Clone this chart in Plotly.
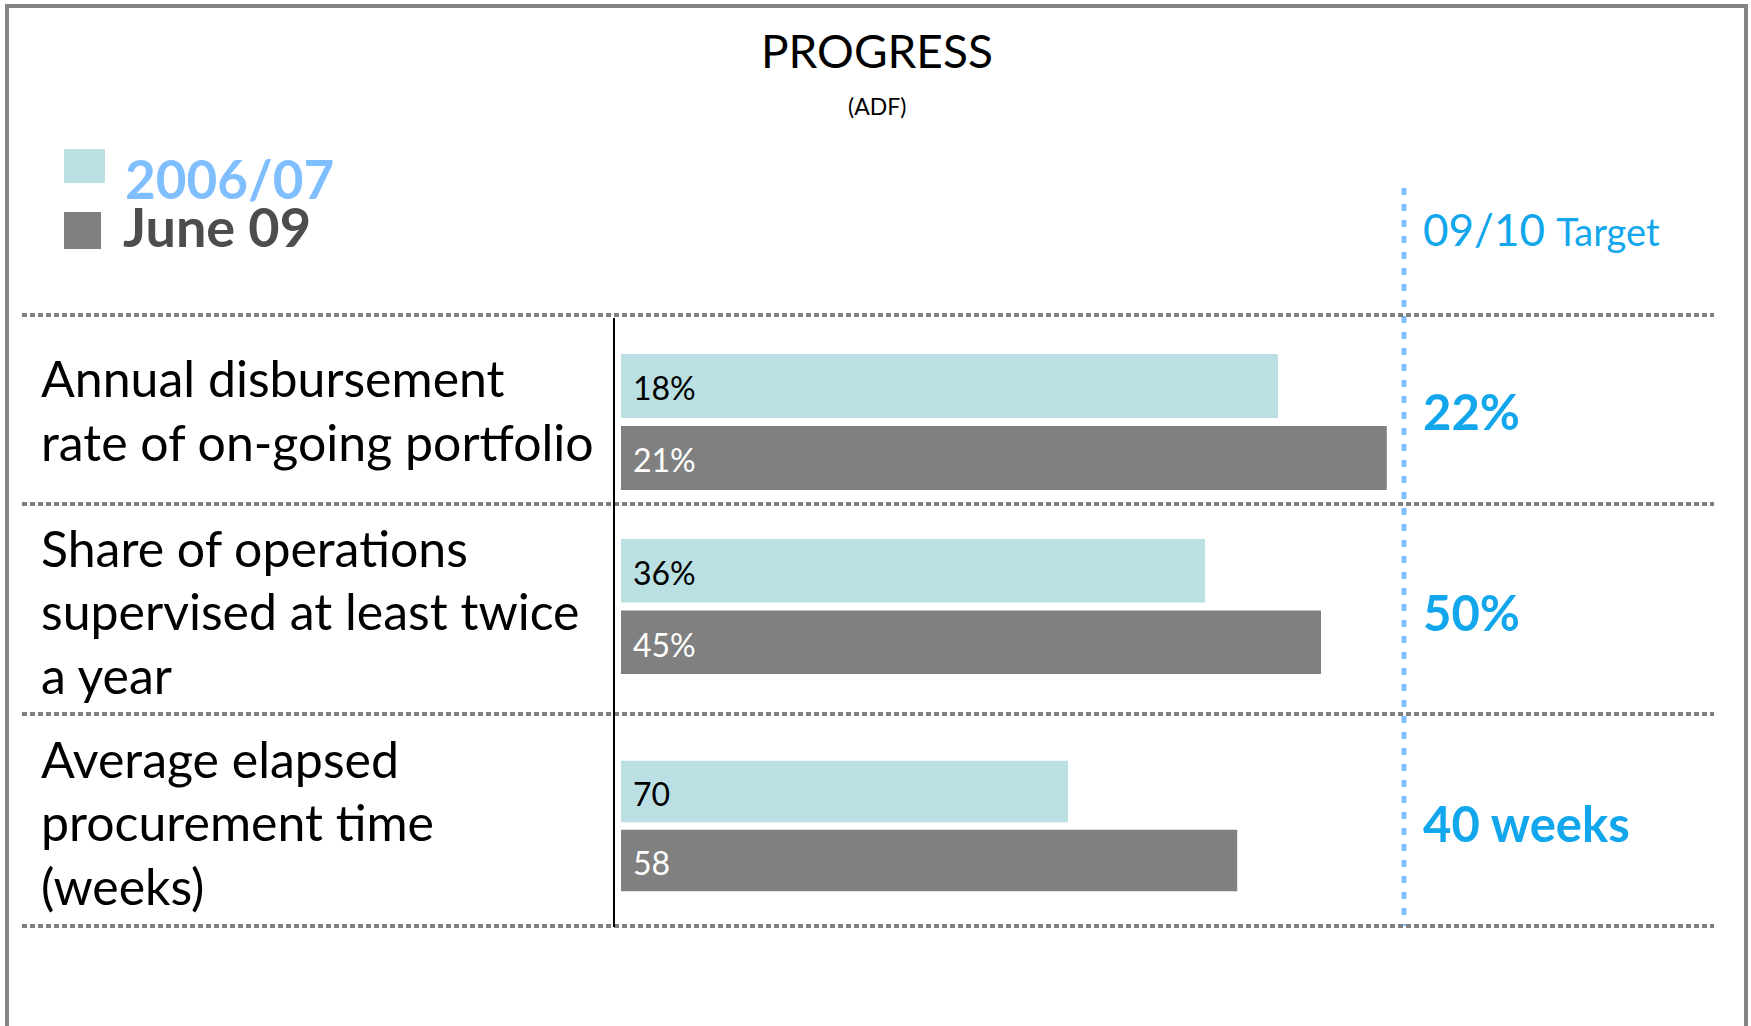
import plotly.graph_objects as go

# ---------------- data ----------------
row_labels = [
    "Annual disbursement\nrate of on-going portfolio",
    "Share of operations\nsupervised at least twice\na year",
    "Average elapsed\nprocurement time\n(weeks)",
]
series_names = ["2006/07", "June 09"]
# bar length, as % of the distance to the 09/10 target line
progress_2006_07 = [83.9, 74.6, 57.1]
progress_june_09 = [97.8, 89.4, 78.7]
value_text_2006_07 = ["18%", "36%", "70"]
value_text_june_09 = ["21%", "45%", "58"]
target_text = ["22%", "50%", "40 weeks"]
target_value = 100

# ---------------- styling ----------------
W, H = 1751, 1026
FONT = "Lato"
C_LIGHT = "#BAE0E3"
C_DARK = "#808080"
C_BLUE = "#12A6EC"
C_LBLUE = "#80BFFF"


def px(x):
    return x / W


def py(y):
    return 1 - y / H


X_MAX = 110
unit_px = (1404 - 621) / 100.0
x_dom = [px(621), px(621 + X_MAX * unit_px)]
row_dom = [(350, 494), (535, 678), (757, 895)]
row_center = [410, 611, 822]
line_gap = 63.5

fig = go.Figure()
series_progress = [progress_2006_07, progress_june_09]
series_colors = [C_LIGHT, C_DARK]
series_text = [value_text_2006_07, value_text_june_09]
text_colors = ["#000000", "#FFFFFF"]

annotations = []
shapes = []

for r in range(3):
    sfx = "" if r == 0 else str(r + 1)
    for s in range(2):
        fig.add_trace(go.Bar(
            x=[series_progress[s][r]], y=[series_names[s]], orientation="h",
            marker=dict(color=series_colors[s], line=dict(width=0)),
            name=series_names[s], showlegend=False,
            xaxis="x" + sfx, yaxis="y" + sfx, hoverinfo="skip",
        ))
        annotations.append(dict(
            x=0, y=series_names[s], xref="x" + sfx, yref="y" + sfx,
            text=series_text[s][r], showarrow=False, xanchor="left", yanchor="middle",
            xshift=10, yshift=-2,
            font=dict(family=FONT, size=32, color=text_colors[s]),
        ))
    # target value text
    annotations.append(dict(
        x=target_value, y=py(row_center[r] + 1), xref="x" + sfx, yref="paper",
        text="<b>" + target_text[r] + "</b>", showarrow=False,
        xanchor="left", yanchor="middle", xshift=17,
        font=dict(family=FONT, size=49, color=C_BLUE),
    ))
    # row label lines
    lines = row_labels[r].split("\n")
    n = len(lines)
    for i, ln in enumerate(lines):
        yc = row_center[r] + (i - (n - 1) / 2) * line_gap
        annotations.append(dict(
            x=px(39), y=py(yc), xref="paper", yref="paper", text=ln,
            showarrow=False, xanchor="left", yanchor="middle",
            font=dict(family=FONT, size=50, color="#000000"),
        ))
    ylo, yhi = row_dom[r]
    fig.layout["xaxis" + sfx] = dict(domain=x_dom, range=[0, X_MAX], visible=False,
                                     anchor="y" + sfx, fixedrange=True)
    fig.layout["yaxis" + sfx] = dict(domain=[py(yhi), py(ylo)], type="category",
                                     categoryorder="array", categoryarray=series_names,
                                     range=[1.5, -0.5], visible=False,
                                     anchor="x" + sfx, fixedrange=True)

# target vertical line
shapes.append(dict(type="line", xref="x", yref="paper", x0=target_value, x1=target_value,
                   y0=py(188), y1=py(926), line=dict(color=C_LBLUE, width=5, dash="7px,9px")))
# horizontal separators
for yy in [315, 504, 714, 926]:
    shapes.append(dict(type="line", xref="paper", yref="paper", x0=px(22), x1=px(1714),
                       y0=py(yy), y1=py(yy), line=dict(color="#7F7F7F", width=4, dash="5px,3px")))
# black axis line
shapes.append(dict(type="line", xref="paper", yref="paper", x0=px(614), x1=px(614),
                   y0=py(318), y1=py(927), line=dict(color="#000000", width=2)))
# outer border
shapes.append(dict(type="rect", xref="paper", yref="paper", x0=px(7), x1=px(1746),
                   y0=py(1040), y1=py(6), line=dict(color="#858585", width=4)))
# legend squares
shapes.append(dict(type="rect", xref="paper", yref="paper", x0=px(64), x1=px(105),
                   y0=py(183), y1=py(149), fillcolor=C_LIGHT, line=dict(width=0)))
shapes.append(dict(type="rect", xref="paper", yref="paper", x0=px(64), x1=px(101),
                   y0=py(249), y1=py(212), fillcolor=C_DARK, line=dict(width=0)))

# legend text
annotations.append(dict(x=px(123), y=py(179), xref="paper", yref="paper",
                        text="<b>" + series_names[0] + "</b>", showarrow=False,
                        xanchor="left", yanchor="middle",
                        font=dict(family=FONT, size=53, color=C_LBLUE)))
annotations.append(dict(x=px(121), y=py(227), xref="paper", yref="paper",
                        text="<b>" + series_names[1] + "</b>", showarrow=False,
                        xanchor="left", yanchor="middle",
                        font=dict(family=FONT, size=54, color="#4D4D4D")))
# target header
annotations.append(dict(x=target_value, y=py(229), xref="x", yref="paper",
                        text="09/10 <span style='font-size:38px'>Target</span>",
                        showarrow=False, xanchor="left", yanchor="middle", xshift=17,
                        font=dict(family=FONT, size=44, color=C_BLUE)))
# titles
annotations.append(dict(x=px(877), y=py(51), xref="paper", yref="paper", text="PROGRESS",
                        showarrow=False, xanchor="center", yanchor="middle",
                        font=dict(family=FONT, size=46, color="#000000")))
annotations.append(dict(x=px(877), y=py(106), xref="paper", yref="paper", text="(ADF)",
                        showarrow=False, xanchor="center", yanchor="middle",
                        font=dict(family=FONT, size=23, color="#000000")))

fig.update_layout(
    width=W, height=H, margin=dict(l=0, r=0, t=0, b=0),
    paper_bgcolor="white", plot_bgcolor="white",
    barmode="overlay", bargap=0.11,
    annotations=annotations, shapes=shapes, showlegend=False,
)

fig.write_html("out.html", config={"displayModeBar": False})
